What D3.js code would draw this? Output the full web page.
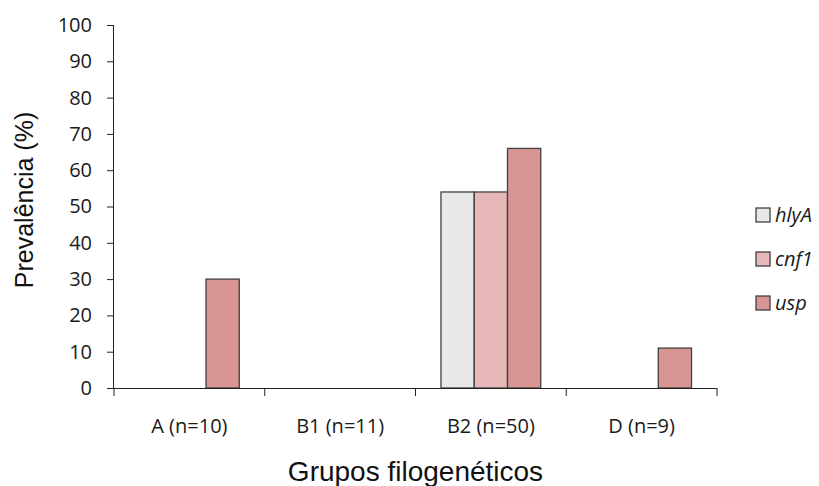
<!DOCTYPE html>
<html><head><meta charset="utf-8">
<script src="https://cdn.jsdelivr.net/npm/d3@7"></script>
<style>body{margin:0;background:#fff}svg{display:block}</style>
</head><body>
<svg id="c" width="819" height="486"></svg>
<script>
const categories = ["A (n=10)", "B1 (n=11)", "B2 (n=50)", "D (n=9)"];
const seriesNames = ["hlyA", "cnf1", "usp"];
const hlyA = [0, 0, 54, 0];
const cnf1 = [0, 0, 54, 0];
const usp = [30, 0, 66, 11];
const yTicks = [0,10,20,30,40,50,60,70,80,90,100];
const colors = ["#E8E8E8", "#E6B8B7", "#D99594"];
const seriesValues = [hlyA, cnf1, usp];

const svg = d3.select("#c");
const W = 819, H = 486;
const m = {left:114, right:W-717, top:25, bottom:H-388};
const font = "'Open Sans', 'Noto Sans', sans-serif";
const titleFont = "'Liberation Sans', Arial, sans-serif";

const x0 = d3.scaleBand().domain(categories).range([m.left, W - m.right]).padding(0);
const groupW = x0.bandwidth() * 0.662;
const x1 = d3.scaleBand().domain(seriesNames).range([0, groupW]).padding(0);
const y = d3.scaleLinear().domain([0, 100]).range([H - m.bottom, m.top]);

// bars
const data = [];
categories.forEach((c, i) => seriesNames.forEach((s, j) => {
  data.push({c, s, j, v: seriesValues[j][i]});
}));
svg.append("g").selectAll("rect").data(data.filter(d => d.v > 0)).join("rect")
  .attr("x", d => x0(d.c) + (x0.bandwidth() - groupW) / 2 + x1(d.s))
  .attr("y", d => y(d.v))
  .attr("width", x1.bandwidth())
  .attr("height", d => y(0) - y(d.v))
  .attr("fill", d => colors[d.j])
  .attr("stroke", "#404040").attr("stroke-width", 1.3);

// y axis
const ya = svg.append("g").attr("transform", `translate(${m.left},0)`)
  .call(d3.axisLeft(y).tickValues(yTicks).tickSize(7).tickPadding(15));
ya.select(".domain").attr("stroke", "#222").attr("d", `M-0.5,${m.top}V${y(0)}`);
ya.selectAll(".tick line").attr("stroke", "#222");
ya.selectAll("text").attr("font-family", font).attr("font-size", 20).attr("fill", "#1a1a1a");

// x axis
const xa = svg.append("g").attr("transform", `translate(0,${y(0)})`)
  .call(d3.axisBottom(x0).tickSize(0).tickPadding(31));
xa.select(".domain").attr("stroke", "#222").attr("d", `M${m.left},0.5H${W - m.right}`);
xa.selectAll("text").attr("font-family", font).attr("font-size", 20).attr("fill", "#1a1a1a");
const bounds = categories.map(c => x0(c)).concat([W - m.right]);
xa.selectAll(".bt").data(bounds).join("line").attr("class", "bt")
  .attr("x1", d => d).attr("x2", d => d).attr("y1", 0).attr("y2", 8)
  .attr("stroke", "#222");

// axis titles
svg.append("text").attr("x", (m.left + W - m.right) / 2).attr("y", 481).attr("text-anchor", "middle")
  .attr("font-family", titleFont).attr("font-size", 28).attr("fill", "#111")
  .text("Grupos filogenéticos");
svg.append("text").attr("transform", `translate(33,200) rotate(-90)`)
  .attr("text-anchor", "middle").attr("font-family", titleFont).attr("font-size", 25).attr("fill", "#111")
  .text("Prevalência (%)");

// legend
const lg = svg.append("g").attr("transform", "translate(756,208)");
seriesNames.forEach((s, i) => {
  const g = lg.append("g").attr("transform", `translate(0,${i * 44})`);
  g.append("rect").attr("width", 14).attr("height", 14).attr("fill", colors[i])
    .attr("stroke", "#404040").attr("stroke-width", 1.3);
  g.append("text").attr("x", 19).attr("y", 14).attr("font-family", font)
    .attr("font-size", 20).attr("font-style", "italic").attr("fill", "#1a1a1a").text(s);
});
</script>
</body></html>
